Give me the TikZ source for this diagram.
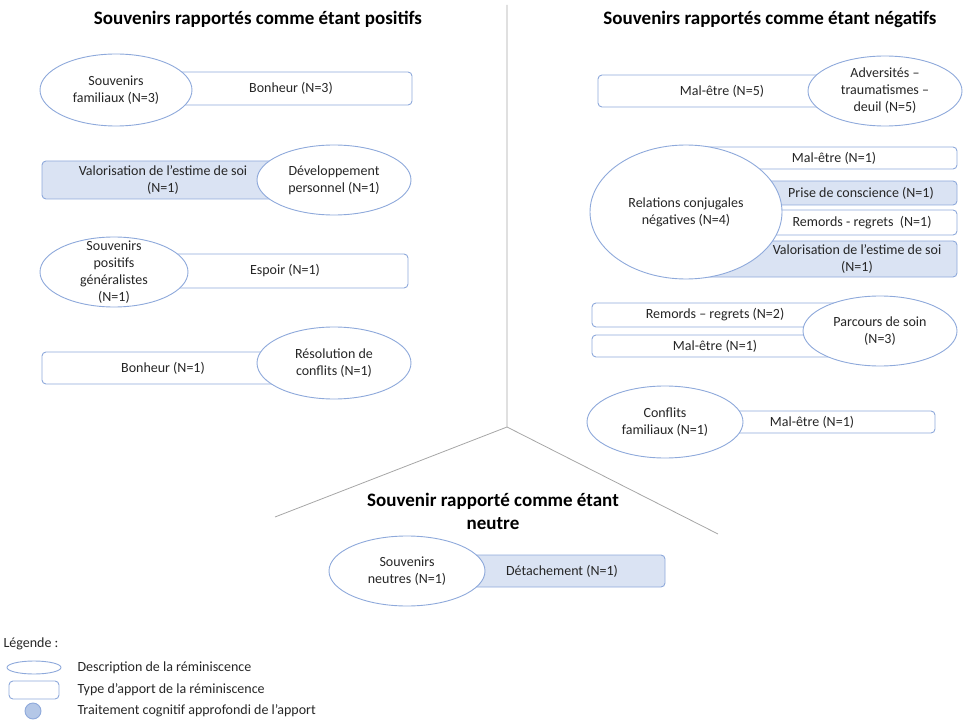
\documentclass[tikz,border=0pt]{standalone}
\usepackage{fontspec}
\setmainfont{Carlito}
\usepackage{xcolor}
\usetikzlibrary{shapes.geometric}
\definecolor{bordure}{HTML}{8EA9DB}
\definecolor{clair}{HTML}{DAE3F3}
\definecolor{moyen}{HTML}{B4C7E7}
\definecolor{trait}{HTML}{A6A6A6}
\definecolor{encre}{HTML}{262626}

\begin{document}
\begin{tikzpicture}[x=1pt,y=-1pt,font=\fontsize{14}{17}\selectfont,text=encre,
    souvenir/.style={ellipse,draw=bordure,fill=white,line width=0.9pt,inner sep=-25pt,align=center},
    apport/.style={rectangle,rounded corners=4pt,draw=bordure,fill=white,line width=0.9pt,inner sep=0pt,align=center},
    approfondi/.style={fill=clair},
    titre/.style={font=\fontsize{19}{23}\selectfont\bfseries,align=center,text=black},
    every label/.append style={align=center}]
          \useasboundingbox (0,0) rectangle (963,727);
          % separateurs
          \coordinate (centre) at (507,427);
          \coordinate (haut)   at (507,5);
          \coordinate (gauche) at (275,517);
          \coordinate (droite) at (718,534);
          \draw[trait,line width=0.8pt] (centre) -- (haut) (centre) -- (gauche) (centre) -- (droite);
          \node[titre] (Tpos) at (258,19)  {Souvenirs rapportés comme étant positifs};
          \node[titre] (Tneg) at (770,19)  {Souvenirs rapportés comme étant négatifs};
          \node[titre] (Tneu) at (493,511) {Souvenir rapporté comme étant\\neutre};
          % positifs
          \node[apport,minimum width=242pt,minimum height=33pt]            (Bon3)  at (291,88.5) {Bonheur (N=3)};
          \node[souvenir,minimum width=152pt,minimum height=72pt]          (Fam)   at (116,90)   {Souvenirs\\familiaux (N=3)};
          \node[apport,approfondi,minimum width=242pt,minimum height=38pt] (Val1)  at (163,180)  {Valorisation de l’estime de soi\\(N=1)};
          \node[souvenir,minimum width=154pt,minimum height=70pt]          (Dev)   at (334,180)  {Développement\\personnel (N=1)};
          \node[apport,minimum width=246pt,minimum height=34pt]            (Esp)   at (285,271)  {Espoir (N=1)};
          \node[souvenir,minimum width=148pt,minimum height=70pt]          (Gen)   at (114,272)  {Souvenirs\\positifs\\généralistes\\(N=1)};
          \node[apport,minimum width=242pt,minimum height=32pt]            (Bon1)  at (163,368)  {Bonheur (N=1)};
          \node[souvenir,minimum width=154pt,minimum height=72pt]          (Res)   at (334,363)  {Résolution de\\conflits (N=1)};
          % negatifs
          \node[apport,minimum width=248pt,minimum height=32pt]            (Mal5)  at (722,91)   {Mal-être (N=5)};
          \node[souvenir,minimum width=154pt,minimum height=70pt]          (Adv)   at (885,91)   {Adversités –\\traumatismes –\\deuil (N=5)};
          \node[apport,minimum width=257pt,minimum height=22pt,label={[xshift=5.5pt]center:{Mal-être (N=1)}}] (MalA) at (828.5,158) {};
          \node[apport,approfondi,minimum width=192pt,minimum height=24pt] (Pri)   at (861,193)  {Prise de conscience (N=1)};
          \node[apport,minimum width=190pt,minimum height=25pt]            (Rem1)  at (862,222.5) {Remords - regrets\ \ (N=1)};
          \node[apport,approfondi,minimum width=257pt,minimum height=36pt,label={[xshift=28.5pt]center:{Valorisation de l’estime de soi\\(N=1)}}] (Val2) at (828.5,259) {};
          \node[souvenir,minimum width=192pt,minimum height=134pt]         (Conj)  at (686,212)  {Relations conjugales\\négatives (N=4)};
          \node[apport,minimum width=258pt,minimum height=24pt,label={[xshift=-6pt]center:{Remords – regrets (N=2)}}] (Rem2) at (721,315) {};
          \node[apport,minimum width=253pt,minimum height=22pt,label={[xshift=-3.5pt]center:{Mal-être (N=1)}}] (MalB) at (718.5,346) {};
          \node[souvenir,minimum width=154pt,minimum height=70pt]          (Soin)  at (880,331)  {Parcours de soin\\(N=3)};
          \node[apport,minimum width=246pt,minimum height=22pt]            (MalC)  at (812,422)  {Mal-être (N=1)};
          \node[souvenir,minimum width=156pt,minimum height=72pt]          (Conf)  at (665,422)  {Conflits\\familiaux (N=1)};
          % neutre
          \node[apport,approfondi,minimum width=206pt,minimum height=32pt] (Det)   at (562,571)  {Détachement (N=1)};
          \node[souvenir,minimum width=156pt,minimum height=70pt]          (Neu)   at (407,571)  {Souvenirs\\neutres (N=1)};
          % legende
          \node[anchor=west] (Leg) at (0,644) {Légende :};
          \node[souvenir,minimum width=54pt,minimum height=13pt] (LegE) at (34,667.5) {};
          \node[anchor=west] (LegET) at (74,668) {Description de la réminiscence};
          \node[apport,minimum width=50pt,minimum height=18pt] (LegR) at (34,690) {};
          \node[anchor=west] (LegRT) at (74,690) {Type d’apport de la réminiscence};
          \node[circle,draw=bordure,fill=moyen,line width=0.9pt,minimum size=16pt,inner sep=0pt] (LegC) at (33,711) {};
          \node[anchor=west] (LegCT) at (74,711) {Traitement cognitif approfondi de l’apport};
\end{tikzpicture}
\end{document}
